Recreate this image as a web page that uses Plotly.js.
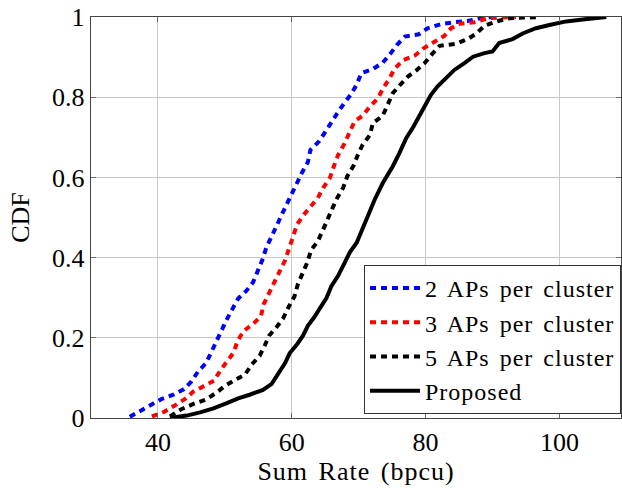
<!DOCTYPE html>
<html>
<head>
<meta charset="utf-8">
<script src="https://cdn.plot.ly/plotly-3.0.1.min.js"></script>
<style>
html,body{margin:0;padding:0;background:#fff;}
#chart{width:622px;height:488px;}
.legendtext{letter-spacing:1px;word-spacing:3px;}
.xtitle{letter-spacing:1px;word-spacing:3px;}
</style>
</head>
<body>
<div id="chart"></div>
<script>
// Series names
const seriesNames = ["2 APs per cluster", "3 APs per cluster", "5 APs per cluster", "Proposed"];

// 2 APs per cluster
const rate2 = [35.8,37.6,39.1,40.5,42.3,43.9,45.0,46.0,47.2,47.9,48.7,49.4,50.3,51.1,52.0,53.2,54.2,54.9,55.6,56.2,57.0,57.7,58.5,59.2,60.0,60.7,61.5,62.4,62.8,64.1,64.9,65.9,66.8,67.8,68.8,69.7,70.4,72.1,73.6,74.7,75.7,76.9,79.0,80.3,82.3,84.3,86.3,88.1,90.0];
const cdf2 = [0.003,0.02,0.032,0.047,0.058,0.072,0.091,0.116,0.137,0.163,0.19,0.217,0.246,0.271,0.298,0.317,0.338,0.366,0.394,0.425,0.451,0.478,0.507,0.532,0.559,0.586,0.611,0.638,0.669,0.69,0.712,0.735,0.76,0.784,0.806,0.831,0.86,0.87,0.886,0.908,0.93,0.951,0.957,0.972,0.982,0.987,0.99,0.997,1.0];

// 3 APs per cluster
const rate3 = [39.1,41.0,42.5,44.0,45.3,46.9,48.4,49.3,50.3,51.3,51.9,52.8,54.2,55.4,55.8,56.7,57.5,58.2,59.0,59.6,60.2,60.8,61.8,62.8,63.9,64.7,65.7,66.3,66.9,67.8,68.6,69.4,70.6,71.7,72.9,73.6,74.6,75.4,76.7,78.4,79.7,81.1,82.8,83.8,85.1,87.3,89.3,93.5];
const cdf3 = [0.004,0.016,0.031,0.047,0.066,0.08,0.093,0.118,0.139,0.163,0.192,0.217,0.234,0.254,0.284,0.313,0.339,0.366,0.393,0.422,0.449,0.483,0.507,0.528,0.549,0.574,0.599,0.628,0.655,0.682,0.709,0.74,0.754,0.777,0.798,0.821,0.847,0.872,0.893,0.904,0.922,0.936,0.953,0.972,0.983,0.987,0.997,1.0];

// 5 APs per cluster
const rate5 = [41.8,43.5,45.3,47.2,48.8,50.0,51.5,53.0,54.0,55.2,56.0,56.6,57.8,58.7,59.6,60.4,60.9,62.3,62.9,63.9,64.7,65.4,66.1,66.8,67.7,68.3,69.2,69.9,70.6,71.7,72.1,73.6,74.4,75.1,76.2,77.4,78.7,79.9,81.1,82.1,84.5,86.3,87.6,88.8,90.6,92.5,97.0];
const cdf5 = [0.004,0.022,0.035,0.046,0.064,0.08,0.095,0.108,0.133,0.155,0.182,0.205,0.228,0.248,0.279,0.303,0.333,0.387,0.419,0.441,0.47,0.5,0.524,0.549,0.575,0.603,0.628,0.657,0.682,0.706,0.735,0.754,0.781,0.81,0.831,0.852,0.868,0.886,0.91,0.928,0.933,0.945,0.959,0.978,0.989,0.997,1.0];

// Proposed
const rateP = [41.8,44.3,46.3,48.3,50.3,52.0,53.7,55.7,57.0,58.0,59.0,59.7,60.8,61.7,62.4,63.3,64.2,65.2,65.9,66.9,67.9,68.7,69.7,70.1,71.1,72.4,73.6,75.1,76.1,77.1,78.2,79.1,79.9,80.8,81.8,83.1,84.3,85.8,87.1,88.8,90.0,91.0,93.0,94.5,96.5,98.5,101.0,103.5,107.0];
const cdfP = [0.0,0.006,0.014,0.024,0.037,0.049,0.058,0.07,0.085,0.109,0.137,0.162,0.184,0.206,0.23,0.25,0.275,0.3,0.328,0.354,0.387,0.414,0.437,0.453,0.499,0.545,0.586,0.628,0.661,0.698,0.727,0.756,0.777,0.806,0.827,0.847,0.868,0.885,0.901,0.91,0.914,0.935,0.945,0.959,0.972,0.98,0.989,0.994,1.0];

// Axis ticks
const xTicks = [40, 60, 80, 100];
const yTicks = [0, 0.2, 0.4, 0.6, 0.8, 1];
const yTickText = ["0", "0.2", "0.4", "0.6", "0.8", "1"];

const FONT = "Liberation Serif, Times New Roman, serif";
const dashPat = "6px,5px";

const traces = [
  {x: rate2, y: cdf2, name: seriesNames[0], legendgroup: "a", mode: "lines", line: {color: "#0000ff", width: 4, dash: dashPat}},
  {x: rate3, y: cdf3, name: seriesNames[1], legendgroup: "b", mode: "lines", line: {color: "#ff0000", width: 4, dash: dashPat}},
  {x: rate5, y: cdf5, name: seriesNames[2], legendgroup: "c", mode: "lines", line: {color: "#000000", width: 4, dash: dashPat}},
  {x: rateP, y: cdfP, name: seriesNames[3], legendgroup: "d", mode: "lines", line: {color: "#000000", width: 4}}
];

const layout = {
  width: 622, height: 488,
  margin: {l: 91, r: 1, t: 17, b: 70, pad: 0},
  paper_bgcolor: "#fff", plot_bgcolor: "#fff",
  font: {family: FONT, size: 26, color: "#000"},
  showlegend: true,
  legend: {
    x: 1, xanchor: "right", y: 0.01, yanchor: "bottom",
    bgcolor: "#fff", bordercolor: "#333", borderwidth: 1,
    font: {family: FONT, size: 24, color: "#000"},
    traceorder: "grouped", tracegroupgap: 0,
    itemwidth: 50
  },
  xaxis: {
    range: [30, 109.2], tickvals: xTicks, ticktext: xTicks.map(String),
    showgrid: true, gridcolor: "#c8c8c8", gridwidth: 1,
    showline: true, linecolor: "#444", linewidth: 1.3, mirror: "ticks",
    ticks: "inside", ticklen: 5, tickcolor: "#666", tickwidth: 1,
    zeroline: false,
    tickfont: {family: FONT, size: 26},
    title: {text: "Sum Rate (bpcu)", font: {family: FONT, size: 26}, standoff: 6}
  },
  yaxis: {
    range: [0, 1], tickvals: yTicks, ticktext: yTickText,
    showgrid: true, gridcolor: "#c8c8c8", gridwidth: 1,
    showline: true, linecolor: "#444", linewidth: 1.3, mirror: "ticks",
    ticks: "inside", ticklen: 5, tickcolor: "#666", tickwidth: 1,
    zeroline: false,
    tickfont: {family: FONT, size: 26},
    title: {text: "CDF", font: {family: FONT, size: 26}, standoff: 15}
  }
};

Plotly.newPlot("chart", traces, layout, {staticPlot: true, displayModeBar: false});
</script>
</body>
</html>
